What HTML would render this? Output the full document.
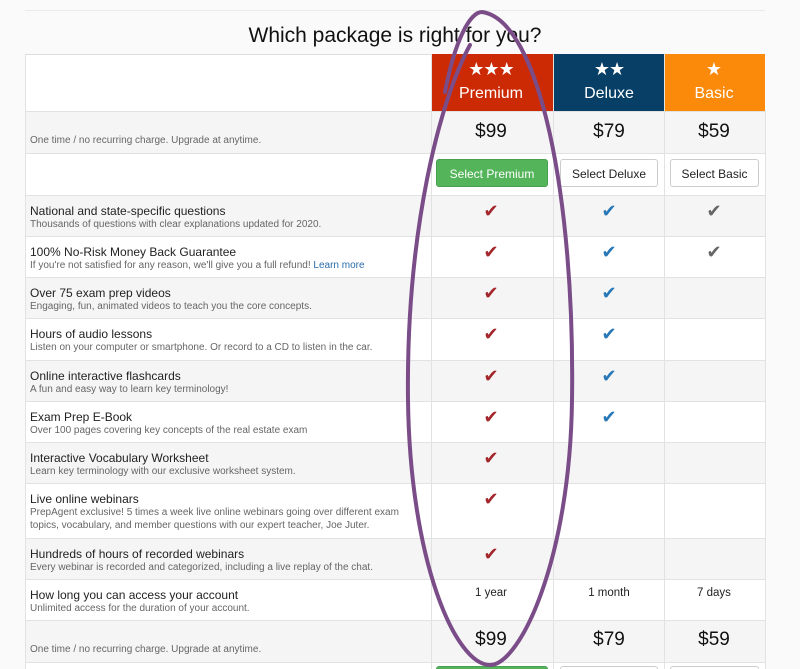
<!DOCTYPE html><html style="overflow:hidden;width:800px;height:669px"><head><meta charset="utf-8"><style>
body{margin:0;width:800px;height:669px;overflow:hidden;background:#fafafa;font-family:"Liberation Sans",sans-serif;position:relative}
.a{position:absolute}
.row{position:absolute;left:25px;width:740px;border-top:1px solid #e2e2e2;box-sizing:border-box}
.g{background:#f5f5f5}.w{background:#fff}
.t{position:absolute;left:5px;font-size:12px;color:#222;white-space:nowrap}
.s{position:absolute;left:5px;font-size:10px;color:#666;white-space:nowrap;line-height:13px}
.vl{position:absolute;top:54px;height:615px;width:1px;background:#e2e2e2}
.ck{position:absolute;font-size:18px;transform:translateX(-50%)}
.c{position:absolute;transform:translateX(-50%);white-space:nowrap}
.btn{position:absolute;height:28px;border:1px solid #ccc;border-radius:3px;background:#fff;font-size:12px;color:#222;text-align:center;line-height:28px;box-sizing:border-box}
</style></head><body>
<div class="a" style="left:25px;top:10px;width:740px;height:1px;background:#eaeaea"></div>
<div class="a" style="left:0;width:790px;top:24px;text-align:center;font-size:21px;color:#111">Which package is right for you?</div>
<div class="row w" style="top:54px;height:58px;border-top:1px solid #ddd"></div>
<div class="a" style="left:431px;top:54px;width:122px;height:57px;background:#cc2a05"></div>
<div class="a" style="left:554px;top:54px;width:110px;height:57px;background:#073f66"></div>
<div class="a" style="left:665px;top:54px;width:100px;height:57px;background:#fb8a0a"></div>
<div class="c" style="left:491px;top:59px;color:#fff;font-size:18px;letter-spacing:-1px">★★★</div>
<div class="c" style="left:609px;top:59px;color:#fff;font-size:18px;letter-spacing:-1px">★★</div>
<div class="c" style="left:714px;top:59px;color:#fff;font-size:18px">★</div>
<div class="c" style="left:491px;top:85px;color:#fff;font-size:16px">Premium</div>
<div class="c" style="left:609px;top:85px;color:#fff;font-size:16px">Deluxe</div>
<div class="c" style="left:714px;top:85px;color:#fff;font-size:16px">Basic</div>

<div class="row g" style="top:111px;height:42px"><div class="s" style="top:22px">One time / no recurring charge. Upgrade at anytime.</div></div>
<div class="c" style="left:491px;top:121px;font-size:19px;color:#111">$99</div>
<div class="c" style="left:609px;top:121px;font-size:19px;color:#111">$79</div>
<div class="c" style="left:714px;top:121px;font-size:19px;color:#111">$59</div>
<div class="row w" style="top:153px;height:42px"></div>
<div class="btn" style="left:436px;top:159px;width:112px;background:#53b45a;border-color:#4aa050;color:#fff">Select Premium</div>
<div class="btn" style="left:560px;top:159px;width:98px">Select Deluxe</div>
<div class="btn" style="left:670px;top:159px;width:89px">Select Basic</div>

<div class="row g" style="top:195px;height:41px"><div class="t" style="top:8px">National and state-specific questions</div><div class="s" style="top:22px">Thousands of questions with clear explanations updated for 2020.</div></div>
<div class="row w" style="top:236px;height:41px"><div class="t" style="top:8px">100% No-Risk Money Back Guarantee</div><div class="s" style="top:22px">If you're not satisfied for any reason, we'll give you a full refund! <span style="color:#2a6ba8">Learn more</span></div></div>
<div class="row g" style="top:277px;height:41px"><div class="t" style="top:8px">Over 75 exam prep videos</div><div class="s" style="top:22px">Engaging, fun, animated videos to teach you the core concepts.</div></div>
<div class="row w" style="top:318px;height:42px"><div class="t" style="top:8px">Hours of audio lessons</div><div class="s" style="top:22px">Listen on your computer or smartphone. Or record to a CD to listen in the car.</div></div>
<div class="row g" style="top:360px;height:41px"><div class="t" style="top:8px">Online interactive flashcards</div><div class="s" style="top:22px">A fun and easy way to learn key terminology!</div></div>
<div class="row w" style="top:401px;height:41px"><div class="t" style="top:8px">Exam Prep E-Book</div><div class="s" style="top:22px">Over 100 pages covering key concepts of the real estate exam</div></div>
<div class="row g" style="top:442px;height:41px"><div class="t" style="top:8px">Interactive Vocabulary Worksheet</div><div class="s" style="top:22px">Learn key terminology with our exclusive worksheet system.</div></div>
<div class="row w" style="top:483px;height:55px"><div class="t" style="top:8px">Live online webinars</div><div class="s" style="top:22px">PrepAgent exclusive! 5 times a week live online webinars going over different exam<br>topics, vocabulary, and member questions with our expert teacher, Joe Juter.</div></div>
<div class="row g" style="top:538px;height:41px"><div class="t" style="top:8px">Hundreds of hours of recorded webinars</div><div class="s" style="top:22px">Every webinar is recorded and categorized, including a live replay of the chat.</div></div>
<div class="row w" style="top:579px;height:41px"><div class="t" style="top:8px">How long you can access your account</div><div class="s" style="top:22px">Unlimited access for the duration of your account.</div></div>
<div class="c" style="left:491px;top:587px;font-size:11.5px;color:#222">1 year</div>
<div class="c" style="left:609px;top:587px;font-size:11.5px;color:#222">1 month</div>
<div class="c" style="left:714px;top:587px;font-size:11.5px;color:#222">7 days</div>
<div class="row g" style="top:620px;height:42px"><div class="s" style="top:22px">One time / no recurring charge. Upgrade at anytime.</div></div>
<div class="c" style="left:491px;top:629px;font-size:19px;color:#111">$99</div>
<div class="c" style="left:609px;top:629px;font-size:19px;color:#111">$79</div>
<div class="c" style="left:714px;top:629px;font-size:19px;color:#111">$59</div>
<div class="row w" style="top:662px;height:7px"></div>
<div class="btn" style="left:436px;top:666px;width:112px;background:#53b45a;border-color:#4aa050"></div>
<div class="btn" style="left:560px;top:666px;width:98px"></div>
<div class="btn" style="left:670px;top:666px;width:89px"></div>

<div class="vl" style="left:431px"></div><div class="vl" style="left:553px"></div><div class="vl" style="left:664px"></div><div class="vl" style="left:765px;top:111px;height:558px"></div><div class="vl" style="left:25px"></div>

<div class="ck" style="left:491px;top:201px;color:#a3262b">✔</div><div class="ck" style="left:609px;top:201px;color:#2878b8">✔</div><div class="ck" style="left:714px;top:201px;color:#666">✔</div>
<div class="ck" style="left:491px;top:242px;color:#a3262b">✔</div><div class="ck" style="left:609px;top:242px;color:#2878b8">✔</div><div class="ck" style="left:714px;top:242px;color:#666">✔</div>
<div class="ck" style="left:491px;top:283px;color:#a3262b">✔</div><div class="ck" style="left:609px;top:283px;color:#2878b8">✔</div>
<div class="ck" style="left:491px;top:324px;color:#a3262b">✔</div><div class="ck" style="left:609px;top:324px;color:#2878b8">✔</div>
<div class="ck" style="left:491px;top:366px;color:#a3262b">✔</div><div class="ck" style="left:609px;top:366px;color:#2878b8">✔</div>
<div class="ck" style="left:491px;top:407px;color:#a3262b">✔</div><div class="ck" style="left:609px;top:407px;color:#2878b8">✔</div>
<div class="ck" style="left:491px;top:448px;color:#a3262b">✔</div>
<div class="ck" style="left:491px;top:489px;color:#a3262b">✔</div>
<div class="ck" style="left:491px;top:544px;color:#a3262b">✔</div>

<svg class="a" style="left:0;top:0" width="800" height="669"><path d="M445 92 C455 40 470 12 482 12 C540 20 575 200 572 400 C570 560 520 665 490 665 C455 665 410 560 408 400 C406 230 440 100 470 45" fill="none" stroke="#7a4d88" stroke-width="4" stroke-linecap="round"/></svg>
</body></html>
